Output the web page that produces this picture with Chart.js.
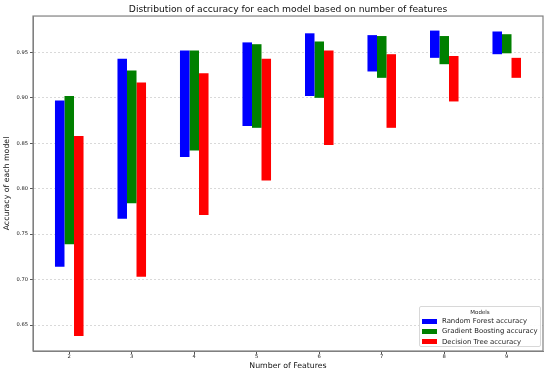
<!DOCTYPE html>
<html>
<head>
<meta charset="utf-8">
<script src="https://cdn.jsdelivr.net/npm/chart.js@4"></script>
<style>
  body { margin: 0; background: #fff; }
  #wrap { position: relative; width: 550px; height: 375px; font-family: "DejaVu Sans", sans-serif; }
  #legend {
    position: absolute; left: 419px; top: 306px; width: 122px; height: 41px;
    border: 1px solid #d8d8d8; border-radius: 2px; background: rgba(255,255,255,0.9);
    font-size: 6.9px; color: #222; box-sizing: border-box;
  }
  #legend .ttl { text-align: center; font-size: 5.5px; margin-top: 1px; height: 8px; line-height: 8px; }
  #legend .row { display: flex; align-items: center; height: 10.3px; padding-left: 2px; white-space: nowrap; }
  #legend .sw { flex: 0 0 15px; height: 5px; margin-right: 5px; }
</style>
</head>
<body>
<div id="wrap">
  <canvas id="chart" width="550" height="375"></canvas>
  <div id="legend"></div>
</div>
<script>
// ===== DATA =====
const features = [2, 3, 4, 5, 6, 7, 8, 9];

const rfMin = [0.714, 0.767, 0.835, 0.869, 0.902, 0.929, 0.944, 0.948];
const rfMax = [0.897, 0.943, 0.952, 0.961, 0.971, 0.969, 0.974, 0.973];

const gbMin = [0.739, 0.784, 0.842, 0.867, 0.900, 0.922, 0.937, 0.949];
const gbMax = [0.902, 0.930, 0.952, 0.959, 0.962, 0.968, 0.968, 0.970];

const dtMin = [0.638, 0.703, 0.771, 0.809, 0.848, 0.867, 0.896, 0.922];
const dtMax = [0.858, 0.917, 0.927, 0.943, 0.952, 0.948, 0.946, 0.944];

const modelNames = ["Random Forest accuracy", "Gradient Boosting accuracy", "Decision Tree accuracy"];
const modelColors = ["#0000ff", "#008000", "#ff0000"];

// ===== HELPERS =====
function ranges(mins, maxs) {
  return features.map((f, i) => ({ x: f, y: [mins[i], maxs[i]] }));
}

const datasets = [
  ranges(rfMin, rfMax),
  ranges(gbMin, gbMax),
  ranges(dtMin, dtMax)
].map((d, i) => ({
  label: modelNames[i],
  data: d,
  backgroundColor: modelColors[i],
  borderWidth: 0,
  categoryPercentage: 0.457,
  barPercentage: 1
}));

// ===== BOX AROUND PLOT (matplotlib spines) =====
const frame = {
  id: "frame",
  afterDraw(chart) {
    const a = chart.chartArea;
    const ctx = chart.ctx;
    ctx.save();
    ctx.strokeStyle = "#808080";
    ctx.lineWidth = 1.2;
    ctx.strokeRect(a.left, a.top, a.right - a.left, a.bottom - a.top);
    ctx.restore();
  }
};

Chart.defaults.font.family = "'DejaVu Sans', sans-serif";
Chart.defaults.color = "#222";

new Chart(document.getElementById("chart"), {
  type: "bar",
  data: { datasets: datasets },
  options: {
    responsive: false,
    animation: false,
    layout: { padding: { left: 0, right: 7, top: 0, bottom: 0 } },
    plugins: {
      legend: { display: false },
      tooltip: { enabled: false },
      title: {
        display: true,
        fullSize: false,
        text: "Distribution of accuracy for each model based on number of features",
        color: "#111",
        font: { size: 9.2, weight: "normal", lineHeight: 1.2 },
        padding: { top: 4, bottom: 1 }
      }
    },
    scales: {
      x: {
        type: "linear",
        offset: false,
        min: 1.42,
        max: 9.58,
        afterFit: s => { s.height = 24; },
        ticks: {
          stepSize: 1,
          includeBounds: false,
          font: { size: 5.2 },
          padding: 0,
          maxRotation: 0
        },
        grid: { offset: false, drawOnChartArea: false, tickLength: 3, color: "#555" },
        border: { color: "#808080" },
        title: {
          display: true,
          text: "Number of Features",
          font: { size: 7.8 },
          padding: { top: 4, bottom: 4 },
          color: "#111"
        }
      },
      y: {
        min: 0.6214,
        max: 0.990,
        afterFit: s => { s.width = 33; },
        ticks: {
          stepSize: 0.05,
          includeBounds: false,
          font: { size: 5.2 },
          padding: 2,
          callback: v => v.toFixed(2)
        },
        grid: { color: "#d9d9d9", tickLength: 3, tickColor: "#555", tickBorderDash: [] },
        border: { color: "#808080", dash: [2, 2] },
        title: {
          display: true,
          text: "Accuracy of each model",
          font: { size: 7.8 },
          padding: { top: 2, bottom: 2 },
          color: "#111"
        }
      }
    }
  },
  plugins: [frame]
});

// ===== LEGEND (inside plot, lower right) =====
const legendEl = document.getElementById("legend");
legendEl.innerHTML = '<div class="ttl">Models</div>' + modelNames.map((n, i) =>
  `<div class="row"><span class="sw" style="background:${modelColors[i]}"></span><span>${n}</span></div>`
).join("");
</script>
</body>
</html>
